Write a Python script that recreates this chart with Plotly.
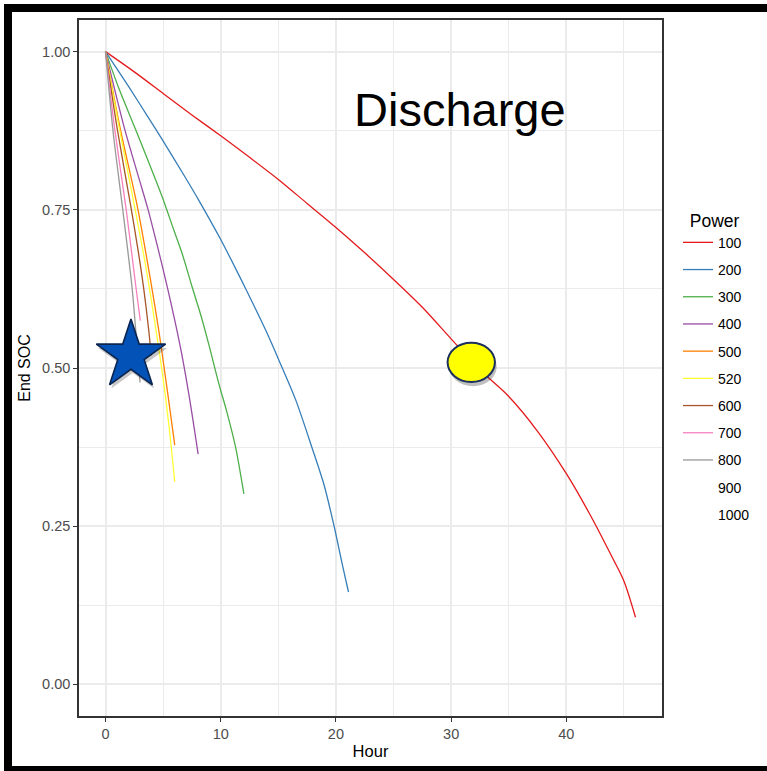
import plotly.graph_objects as go

# ---------------- data ----------------
power_levels = ["100", "200", "300", "400", "500", "520", "600", "700", "800", "900", "1000"]
power_colors = ["#E41A1C", "#377EB8", "#4DAF4A", "#984EA3", "#FF7F00", "#FFFF33",
                "#A65628", "#F781BF", "#999999", "rgba(0,0,0,0)", "rgba(0,0,0,0)"]

hour_100 = [0, 2.5, 5, 7.5, 10, 12.5, 15, 17.5, 20, 22.5, 25, 27.5, 30, 32.5, 35, 37.5, 40, 42, 44, 45, 46]
soc_100 = [1.0, 0.968, 0.934, 0.900, 0.867, 0.833, 0.798, 0.760, 0.722, 0.682, 0.640, 0.596, 0.546,
           0.497, 0.455, 0.400, 0.333, 0.270, 0.200, 0.163, 0.106]

hour_200 = [0, 2, 3.75, 5.06, 6.8, 8.1, 10.0, 11.6, 12.9, 13.9, 15.06, 16.5, 17.96, 18.97, 19.84, 20.57, 21.09]
soc_200 = [1.0, 0.945, 0.895, 0.857, 0.805, 0.765, 0.703, 0.646, 0.598, 0.560, 0.512, 0.450, 0.372,
           0.315, 0.250, 0.188, 0.146]

hour_300 = [0, 1.2, 2.7, 4.91, 5.93, 6.65, 7.52, 8.25, 8.97, 9.84, 10.57, 11.29, 12.01]
soc_300 = [1.0, 0.94, 0.873, 0.771, 0.718, 0.681, 0.628, 0.585, 0.537, 0.475, 0.428, 0.375, 0.301]

hour_400 = [0, 1.6, 2.9, 3.7, 4.5, 5.4, 6.5, 7.23, 8.04]
soc_400 = [1.0, 0.882, 0.800, 0.75, 0.693, 0.625, 0.533, 0.459, 0.364]

hour_500 = [0, 1.2, 2.8, 3.9, 4.62, 5.2, 5.64, 6.01]
soc_500 = [1.0, 0.885, 0.752, 0.640, 0.560, 0.486, 0.428, 0.378]

hour_520 = [0, 1.1, 2.6, 3.5, 4.04, 4.91, 5.5, 6.01]
soc_520 = [1.0, 0.888, 0.748, 0.660, 0.600, 0.495, 0.410, 0.320]

hour_600 = [0, 1.0, 2.2, 2.88, 3.32, 3.75, 3.97]
soc_600 = [1.0, 0.88, 0.755, 0.680, 0.625, 0.560, 0.520]

hour_700 = [0, 0.78, 1.8, 2.64, 3.02]
soc_700 = [1.0, 0.88, 0.75, 0.628, 0.575]

hour_800 = [0, 0.65, 1.5, 2.3, 2.6, 3.0]
soc_800 = [1.0, 0.875, 0.75, 0.628, 0.565, 0.477]

hour_900 = []
soc_900 = []
hour_1000 = []
soc_1000 = []

x_ticks = [0, 10, 20, 30, 40]
y_ticks = [0.0, 0.25, 0.5, 0.75, 1.0]
y_tick_labels = ["0.00", "0.25", "0.50", "0.75", "1.00"]

chart_label = "Discharge"
star_pos = (2.21, 0.520)
ellipse_box = (29.69, 33.80, 0.478, 0.540)

series = [
    (hour_100, soc_100), (hour_200, soc_200), (hour_300, soc_300), (hour_400, soc_400),
    (hour_500, soc_500), (hour_520, soc_520), (hour_600, soc_600), (hour_700, soc_700),
    (hour_800, soc_800), (hour_900, soc_900), (hour_1000, soc_1000),
]

FONT = "Liberation Sans, Arial, sans-serif"

fig = go.Figure()
for name, color, (hx, sy) in zip(power_levels, power_colors, series):
    fig.add_trace(go.Scatter(
        x=hx if hx else [None], y=sy if sy else [None], mode="lines", name=name,
        legendgroup=name, line=dict(color=color, width=1.3, shape="spline", smoothing=0.8),
    ))

# star with a soft shadow
fig.add_trace(go.Scatter(
    x=[star_pos[0] + 0.15], y=[star_pos[1] - 0.006], mode="markers", showlegend=False,
    hoverinfo="skip",
    marker=dict(symbol="star", size=52, color="rgba(0,0,0,0.22)", line=dict(width=0)),
))
fig.add_trace(go.Scatter(
    x=[star_pos[0]], y=[star_pos[1]], mode="markers", showlegend=False,
    marker=dict(symbol="star", size=52, color="#0352B8", line=dict(color="#0B2550", width=1.6)),
))

x0, x1, y0, y1 = ellipse_box
fig.add_shape(type="circle", xref="x", yref="y", x0=x0 + 0.15, x1=x1 + 0.15,
              y0=y0 - 0.007, y1=y1 - 0.007, fillcolor="rgba(0,0,0,0.25)",
              line=dict(width=0), layer="above")
fig.add_shape(type="circle", xref="x", yref="y", x0=x0, x1=x1, y0=y0, y1=y1,
              fillcolor="#FFFF00", line=dict(color="#1B2F5E", width=2), layer="above")

fig.add_annotation(x=30.76, y=0.908, xref="x", yref="y", text=chart_label, showarrow=False,
                   xanchor="center", yanchor="middle",
                   font=dict(family=FONT, size=47, color="#000000"))

# frame of the picture: black left / top / bottom bands, white right edge
L, W, T, H = 79, 583, 20, 696
def px_x(p):
    return (p - L) / W
def px_y(p):
    return (T + H - p) / H
for (a, b, c, d) in [(4, 12, 4, 771), (4, 767, 4, 12), (4, 767, 766, 771)]:
    fig.add_shape(type="rect", xref="paper", yref="paper",
                  x0=px_x(a), x1=px_x(b), y0=px_y(d), y1=px_y(c),
                  fillcolor="#000000", line=dict(width=0), layer="above")
fig.add_shape(type="rect", xref="paper", yref="paper",
              x0=px_x(752), x1=px_x(767), y0=px_y(766), y1=px_y(12),
              fillcolor="#FFFFFF", line=dict(width=0), layer="above")

axis_common = dict(
    showline=True, linecolor="#333333", linewidth=1.5, mirror=True,
    ticks="outside", ticklen=4, tickcolor="#333333", tickwidth=1.2,
    showgrid=True, gridcolor="#EBEBEB", gridwidth=1.6, zeroline=False,
    tickfont=dict(family=FONT, size=14.5, color="#4D4D4D"),
)

fig.update_xaxes(
    range=[-2.3, 48.3], tickvals=x_ticks,
    title=dict(text="Hour", font=dict(family=FONT, size=16.5, color="#000000"), standoff=4),
    minor=dict(dtick=5, tick0=0, showgrid=True, gridcolor="#EBEBEB", gridwidth=1.4, ticks=""),
    **axis_common,
)
fig.update_yaxes(
    range=[-0.05, 1.05], tickvals=y_ticks, ticktext=y_tick_labels,
    title=dict(text="End SOC", font=dict(family=FONT, size=16, color="#000000"), standoff=8),
    minor=dict(dtick=0.125, tick0=0, showgrid=True, gridcolor="#EBEBEB", gridwidth=1.4, ticks=""),
    **axis_common,
)

fig.update_layout(
    width=767, height=771,
    margin=dict(l=L, r=767 - L - W, t=T, b=771 - T - H),
    paper_bgcolor="#FFFFFF", plot_bgcolor="#FFFFFF",
    font=dict(family=FONT),
    legend=dict(
        title=dict(text="\u00a0\u00a0Power", font=dict(family=FONT, size=17.5, color="#000000")),
        x=px_x(678), xanchor="left", y=px_y(204), yanchor="top",
        font=dict(family=FONT, size=14, color="#000000"),
        tracegroupgap=6, bgcolor="rgba(0,0,0,0)",
    ),
    showlegend=True,
)

fig.write_html(
    "out.html",
    config=dict(displayModeBar=False),
    post_script=("document.body.style.margin='0px';"
                 "document.body.style.background='#FFFFFF';"
                 "document.documentElement.style.background='#FFFFFF';"
                 "document.body.style.overflow='hidden';"
                 "document.documentElement.style.overflow='hidden';"),
)
